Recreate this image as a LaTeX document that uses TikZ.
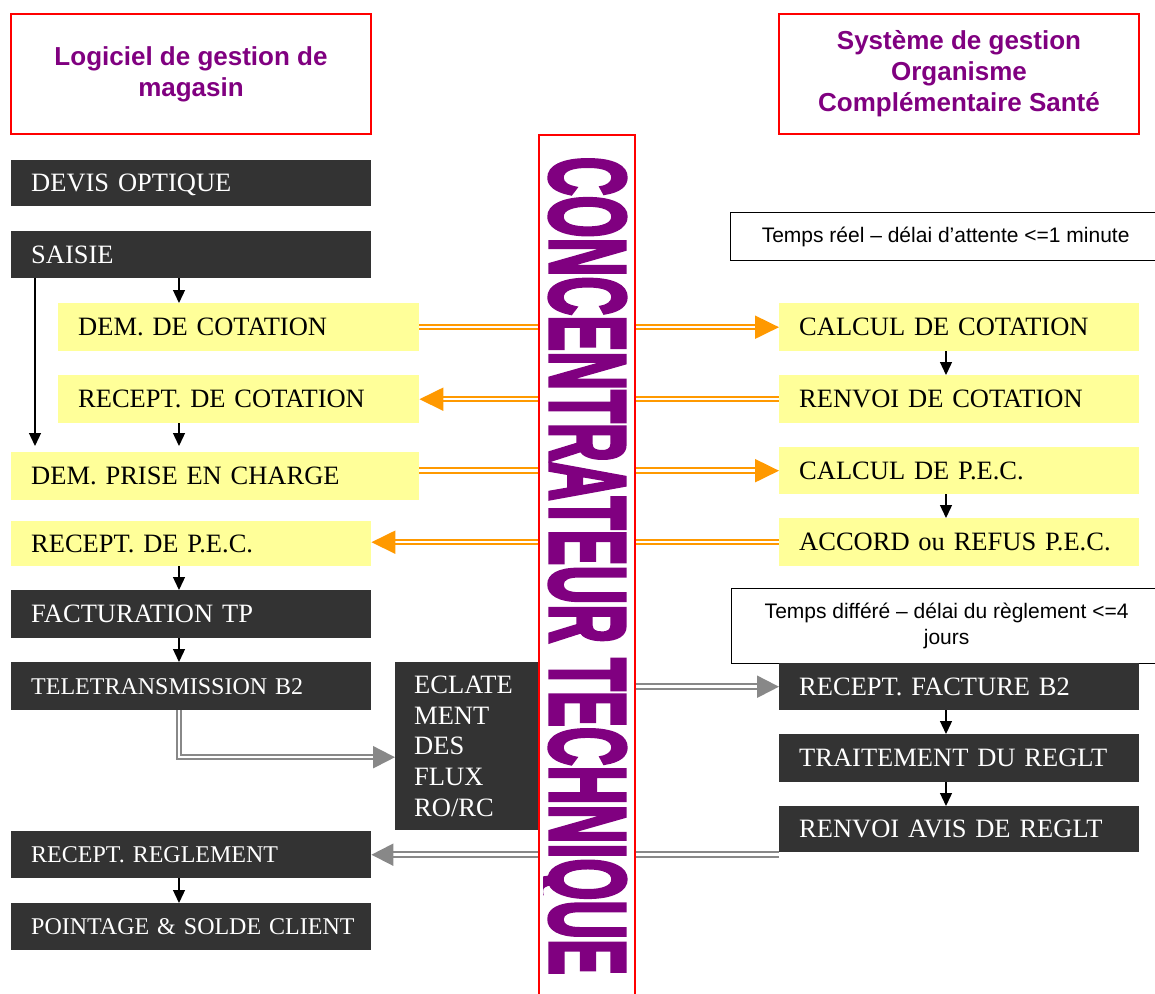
\documentclass[tikz,border=0pt]{standalone}
\usepackage{fontspec}
\usepackage{graphicx}
\setmainfont{Liberation Serif}
\setsansfont{Liberation Sans}
\newfontfamily\concfont{Liberation Sans Bold}[FakeBold=4]
\usetikzlibrary{arrows.meta,backgrounds,calc}
\definecolor{dark}{HTML}{333333}
\definecolor{yel}{HTML}{FFFF99}
\definecolor{purp}{HTML}{800080}
\definecolor{ora}{HTML}{FF9900}
\definecolor{gry}{HTML}{888888}
\begin{document}
\begin{tikzpicture}[x=1pt,y=-1pt,
  box/.style={rectangle, anchor=north west, inner xsep=20pt, inner ysep=0pt,
    align=left, text height=17.5pt, text depth=0pt,
    font=\fontsize{26.5}{30}\selectfont},
  smallfont/.style={font=\fontsize{24}{28}\selectfont, text height=16pt},
  darkbox/.style={box, fill=dark, text=white},
  yelbox/.style={box, fill=yel, text=black},
  hdr/.style={draw=red, line width=1.5pt, minimum width=360pt, minimum height=120pt,
    align=center, text=purp, font=\sffamily\bfseries\fontsize{26}{31}\selectfont},
  note/.style={draw=black, line width=1.3pt, anchor=north west, align=center,
    font=\sffamily\fontsize{21}{26}\selectfont},
  arr/.style={-{Triangle[length=13pt,width=12pt]}, line width=1.3pt, black},
  dblo/.style={draw=ora, double=white, double distance=2.5pt, line width=2pt,
    -{Triangle[length=24pt,width=23pt]}},
  dblg/.style={draw=gry, double=white, double distance=2.5pt, line width=2pt,
    -{Triangle[length=22pt,width=22pt]}}
]
\useasboundingbox (0,0) rectangle (1155,993);

% headers
\node[hdr] (lhead) at (191,74) {Logiciel de gestion de\\magasin};
\node[hdr] (rhead) at (959,74) {Système de gestion\\Organisme\\Complémentaire Santé};

% left column
\node[darkbox, text width=320pt, minimum height=46pt] (devis) at (11,160) {DEVIS OPTIQUE};
\node[darkbox, text width=320pt, minimum height=47pt] (saisie) at (11,231) {SAISIE};
\node[yelbox, text width=321pt, minimum height=48pt] (demcot) at (58,303) {DEM. DE COTATION};
\node[yelbox, text width=321pt, minimum height=48pt] (reccot) at (58,375) {RECEPT. DE COTATION};
\node[yelbox, text width=368pt, minimum height=48pt] (demprise) at (11,452) {DEM. PRISE EN CHARGE};
\node[yelbox, text width=320pt, minimum height=45pt] (recpec) at (11,521) {RECEPT. DE P.E.C.};
\node[darkbox, text width=320pt, minimum height=48pt] (fact) at (11,590) {FACTURATION TP};
\node[darkbox, smallfont, text width=320pt, minimum height=48pt] (tele) at (11,662) {TELETRANSMISSION B2};
\node[darkbox, smallfont, text width=320pt, minimum height=47pt] (recreg) at (11,831) {RECEPT. REGLEMENT};
\node[darkbox, smallfont, text width=320pt, minimum height=47pt] (point) at (11,903) {\mbox{POINTAGE \& SOLDE CLIENT}};
\node[rectangle, fill=dark, text=white, anchor=north west, inner xsep=19pt, inner ysep=0pt,
  text width=105pt, minimum height=168pt, align=left,
  font=\fontsize{26.5}{30.7}\selectfont] (eclat) at (395,662) {ECLATE\\MENT\\DES\\FLUX\\RO/RC};

% right column
\node[note, minimum width=430pt, minimum height=48pt] (treel) at (730,212) {Temps réel – délai d’attente <=1 minute};
\node[yelbox, text width=320pt, minimum height=48pt] (calccot) at (779,303) {CALCUL DE COTATION};
\node[yelbox, text width=320pt, minimum height=48pt] (renvcot) at (779,375) {RENVOI DE COTATION};
\node[yelbox, text width=320pt, minimum height=47pt] (calcpec) at (779,447) {CALCUL DE P.E.C.};
\node[yelbox, text width=320pt, minimum height=48pt] (accord) at (779,518) {ACCORD ou REFUS P.E.C.};
\node[note, minimum width=430pt, minimum height=75pt] (tdiff) at (731,588) {Temps différé – délai du règlement <=4\\jours};
\node[darkbox, text width=320pt, minimum height=47pt] (recfact) at (779,663) {RECEPT. FACTURE B2};
\node[darkbox, text width=320pt, minimum height=48pt] (trait) at (779,734) {TRAITEMENT DU REGLT};
\node[darkbox, text width=320pt, minimum height=46pt] (renvavis) at (779,806) {RENVOI AVIS DE REGLT};

% column coordinates for vertical arrows
\coordinate (lx) at (179,0);
\coordinate (sx) at (35,0);
\coordinate (rx) at (946,0);

% black arrows
\draw[arr] (saisie.south -| lx) -- (demcot.north -| lx);
\draw[arr, shorten >=6pt] (saisie.south -| sx) -- (demprise.north -| sx);
\draw[arr, shorten >=6pt] (reccot.south -| lx) -- (demprise.north -| lx);
\draw[arr] (recpec.south -| lx) -- (fact.north -| lx);
\draw[arr] (fact.south -| lx) -- (tele.north -| lx);
\draw[arr] (recreg.south -| lx) -- (point.north -| lx);
\draw[arr] (calccot.south -| rx) -- (renvcot.north -| rx);
\draw[arr] (calcpec.south -| rx) -- (accord.north -| rx);
\draw[arr] (recfact.south -| rx) -- (trait.north -| rx);
\draw[arr] (trait.south -| rx) -- (renvavis.north -| rx);

% double arrows (behind the concentrator)
\begin{scope}[on background layer]
\draw[dblo] (demcot.east) -- (calccot.west);
\draw[dblo] (renvcot.west) -- (reccot.east);
\draw[dblo] (demprise.east |- calcpec.west) -- (calcpec.west);
\draw[dblo] (accord.west) -- (recpec.east |- accord.west);
\draw[dblg] (tele.south -| lx) |- ($(eclat.west)+(0,11)$);
\draw[dblg] (eclat.east |- recfact.west) -- (recfact.west);
\draw[dblg] (renvavis.west |- recreg.east) -- (recreg.east);
\end{scope}

% concentrator
\node[draw=red, line width=2pt, fill=white, minimum width=96pt, minimum height=900pt,
  anchor=north, inner sep=0pt] (conc) at (587,134) {};
\begin{scope}
\clip ($(conc.south west)+(5,0)$) rectangle ($(conc.north east)+(-2,0)$);
\node[rotate=-90, text=purp, inner sep=0pt] (conctext) at (588,566)
  {\raisebox{0pt}[\height][0pt]{\resizebox{818pt}{75pt}{\concfont CONCENTRATEUR TECHNIQUE}}};
\end{scope}
\end{tikzpicture}
\end{document}
